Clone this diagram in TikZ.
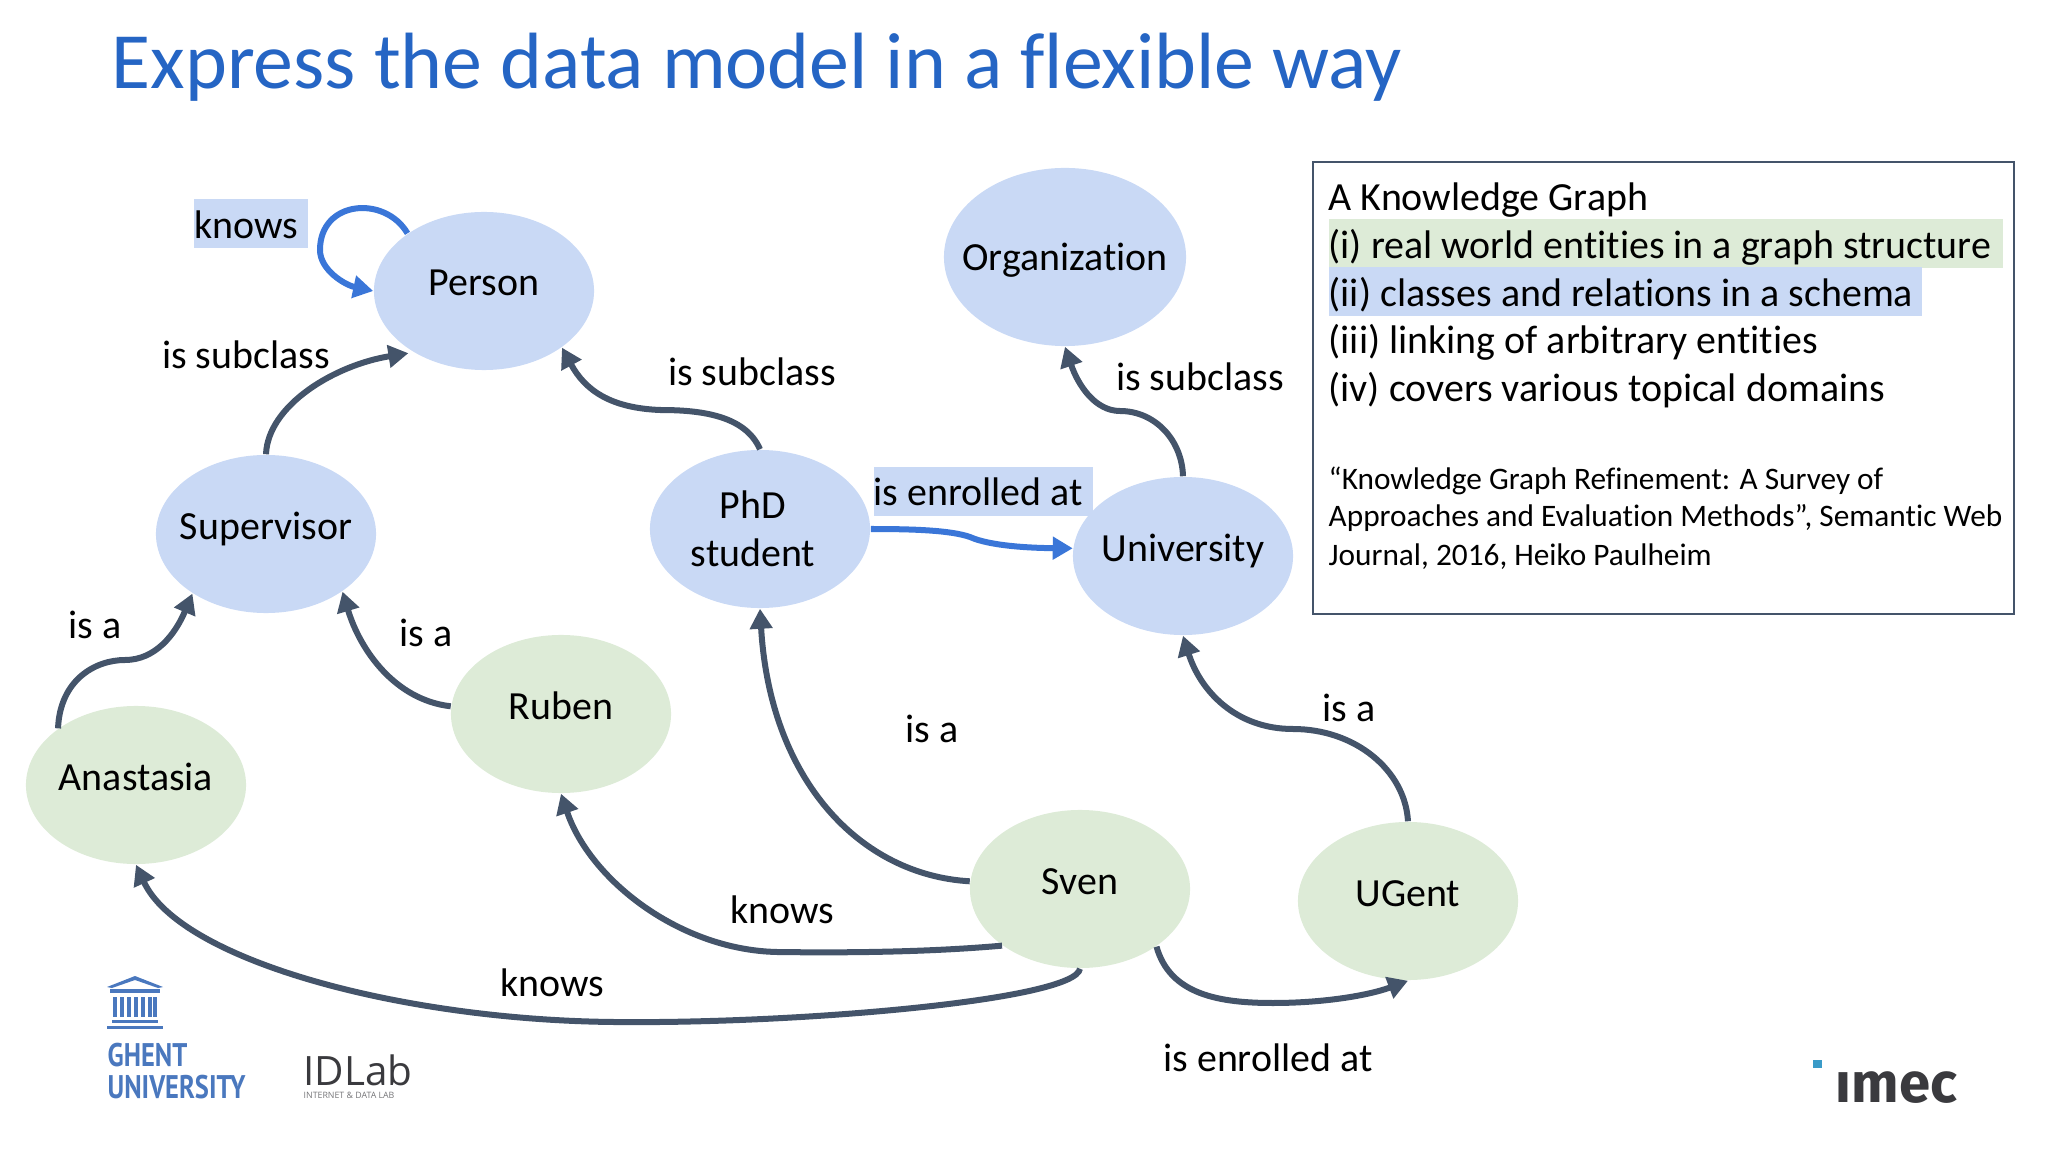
\documentclass[tikz,border=0pt]{standalone}
\usepackage{fontspec}
\setmainfont{Carlito}[Ligatures=CommonOff]
\newfontfamily\ghentfont[FakeStretch=0.81]{PT Sans}
\newfontfamily\idlabfont{Open Sans}
\newfontfamily\imecfont{Fira Sans}
\usetikzlibrary{arrows.meta,shapes.geometric}
\definecolor{clsblue}{HTML}{C9D9F5}
\definecolor{entgreen}{HTML}{DDEBD7}
\definecolor{slate}{HTML}{44546A}
\definecolor{linkblue}{HTML}{3A76D8}
\definecolor{titleblue}{HTML}{2565C4}
\definecolor{ghentblue}{HTML}{4A78BE}
\definecolor{logogray}{HTML}{3A3A3E}
\definecolor{imecdot}{HTML}{3A9BC8}
\tikzset{
	blob/.style={ellipse,minimum width=2.2cm,minimum height=1.58cm,inner sep=-0.6cm,font=\fontsize{11.35}{13.6}\selectfont},
	cls/.style={blob,fill=clsblue,text height=0.24cm,text depth=0.14cm,xshift=0.01cm},
	ent/.style={blob,fill=entgreen,text height=0.24cm,text depth=0.14cm},
	lbl/.style={inner sep=0,font=\fontsize{11.35}{13.6}\selectfont,xshift=0.01cm},
	hlbox/.style={anchor=base west,inner sep=0,text height=0.40cm,text depth=0.09cm,font=\fontsize{11.35}{13.6}\selectfont},
	kgline/.style={anchor=base west,inner sep=0,font=\fontsize{11.35}{13.6}\selectfont},
	refline/.style={anchor=base west,inner sep=0,font=\fontsize{8.9}{10.6}\selectfont},
	rel/.style={draw=slate,line width=0.06cm,-{Triangle[length=0.2cm,width=0.22cm]}},
	rellive/.style={draw=linkblue,line width=0.06cm,-{Triangle[length=0.2cm,width=0.22cm]}},
	ghentline/.style={anchor=base west,inner sep=0,text=ghentblue,font=\ghentfont\bfseries\fontsize{9.3}{11}\selectfont},
}
\begin{document}
\begin{tikzpicture}[x=0.01cm,y=-0.01cm]
	\useasboundingbox (0,0) rectangle (2048,1152);
	\node[anchor=base west,inner sep=0,text=titleblue,font=\fontsize{22.7}{27}\selectfont] (title) at (111,89) {Express the data model in a flexible way};
	\node[cls] (person) at (483,291) {Person};
	\node[cls,minimum width=2.42cm,minimum height=1.78cm,text height=0.40cm] (organization) at (1064,257) {Organization};
	\node[cls] (supervisor) at (265,534) {Supervisor};
	\node[blob,fill=clsblue,label={[align=center,xshift=-0.07cm,name=phdtext,font=\fontsize{11.35}{13.6}\selectfont]center:PhD\\student}] (phd) at (760,529) {};
	\node[cls] (university) at (1182,556) {University};
	\node[ent] (anastasia) at (136,785) {Anastasia};
	\node[ent] (ruben) at (561,714) {Ruben};
	\node[ent] (sven) at (1080,889) {Sven};
	\node[ent] (ugent) at (1408,901) {UGent};
	\draw[rellive] (person.143) .. controls (385,195) and (320,200) .. (320,250) .. controls (320,270) and (345,285) .. (person.180);
	\draw[rellive] (phd.0) .. controls (910,529) and (950,530) .. (970,537) .. controls (990,546) and (1030,548) .. (university.176);
	\draw[rel,shorten >=0.05cm] (supervisor.90) .. controls (268,405) and (335,365) .. (person.221);
	\draw[rel] (phd.90) .. controls (745,415) and (700,410) .. (660,410) .. controls (610,408) and (585,390) .. (person.324);
	\draw[rel] (university.90) .. controls (1182,440) and (1155,411) .. (1120,411) .. controls (1095,411) and (1078,385) .. (organization.270);
	\draw[rel] (anastasia.144) .. controls (60,680) and (95,660) .. (125,660) .. controls (155,660) and (175,635) .. (supervisor.219);
	\draw[rel] (ruben.176) .. controls (395,700) and (360,650) .. (supervisor.323);
	\draw[rel] (ugent.90) .. controls (1405,770) and (1355,729) .. (1293,729) .. controls (1235,729) and (1200,690) .. (university.270);
	\draw[rel] (sven.176) .. controls (860,875) and (770,780) .. (phd.270);
	\draw[rel] (sven.216) .. controls (930,952) and (850,953) .. (777,952) .. controls (680,950) and (590,880) .. (ruben.270);
	\draw[rel] (sven.270) .. controls (1075,1000) and (800,1024) .. (614,1022) .. controls (400,1020) and (180,960) .. (anastasia.270);
	\draw[rel] (sven.323) .. controls (1170,995) and (1220,1003) .. (1273,1003) .. controls (1325,1003) and (1370,995) .. (ugent.270);
	\node[hlbox,fill=clsblue] (knowslive) at (193,239) {\makebox[1.14cm][l]{\hspace{0.01cm}knows}};
	\node[lbl] (sub1) at (245,355) {is subclass};
	\node[lbl] (sub2) at (751,372) {is subclass};
	\node[lbl] (sub3) at (1199,377) {is subclass};
	\node[hlbox,fill=clsblue,text height=0.38cm,text depth=0.11cm] (enrolled) at (873,505) {\makebox[2.19cm][l]{is enrolled at}};
	\node[lbl] (isa1) at (94,625) {is a};
	\node[lbl] (isa2) at (425,633) {is a};
	\node[lbl] (isa3) at (931,729) {is a};
	\node[lbl] (isa4) at (1348,708) {is a};
	\node[lbl] (knows1) at (781,910) {knows};
	\node[lbl] (knows2) at (551,983) {knows};
	\node[lbl] (enrolled2) at (1267,1058) {is enrolled at};
	\draw[draw=slate,line width=0.02cm] (1313,162) rectangle (2014,614);
	\node[kgline] (kg0) at (1328,211) {A Knowledge Graph};
	\node[hlbox,fill=entgreen] (kg1) at (1328,259) {\makebox[6.74cm][l]{(i) real world entities in a graph structure}};
	\node[hlbox,fill=clsblue] (kg2) at (1328,307) {\makebox[5.93cm][l]{(ii) classes and relations in a schema}};
	\node[kgline] (kg3) at (1328,354) {(iii) linking of arbitrary entities};
	\node[kgline] (kg4) at (1328,402) {(iv) covers various topical domains};
	\node[refline] (ref1) at (1328,490) {“Knowledge Graph Refinement: A Survey of};
	\node[refline] (ref2) at (1328,527) {Approaches and Evaluation Methods”, Semantic Web};
	\node[refline] (ref3) at (1328,565) {Journal, 2016, Heiko Paulheim};
	\fill[ghentblue] (107,987) -- (135,976) -- (163,987) -- (158,988) -- (135,980) -- (112,988) -- cycle;
	\fill[ghentblue] (110,989) rectangle (160,993);
	\foreach \colx in {115,122,129,136,143,150,155}
		\fill[ghentblue] (\colx-2,997) rectangle (\colx+2,1017);
	\fill[ghentblue] (112,1020) rectangle (158,1023);
	\fill[ghentblue] (107,1026) rectangle (163,1029);
	\node[ghentline] (ghent) at (107,1066) {GHENT};
	\node[ghentline] (ghentuni) at (107,1098) {UNIVERSITY};
	\node[anchor=base west,inner sep=0,text=logogray,font=\idlabfont\fontsize{11.5}{13}\selectfont] (idlab) at (303,1085) {IDLab};
	\node[anchor=base west,inner sep=0,text=logogray!70,font=\idlabfont\fontsize{2.5}{3}\selectfont] (idlabsub) at (303,1098) {INTERNET \& DATA LAB};
	\fill[imecdot] (1813,1060) rectangle (1822,1068);
	\node[anchor=base west,inner sep=0,text=logogray,font=\imecfont\bfseries\fontsize{16}{18}\selectfont] (imec) at (1835,1102) {ımec};
\end{tikzpicture}
\end{document}
